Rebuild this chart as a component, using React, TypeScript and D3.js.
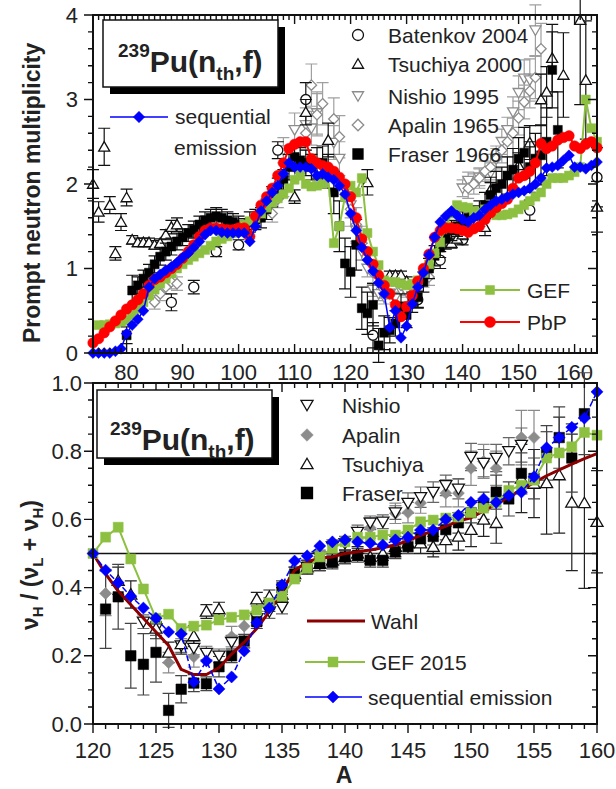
import React from "react";
import * as d3 from "d3";

type P = [number, number];
type E = [number, number, number];

// ---------- upper panel: prompt neutron multiplicity vs A ----------
const pbpTop: P[] = [
  [74,0.12],[75,0.17],[76,0.24],[77,0.31],[78,0.38],[79,0.45],[80,0.52],[81,0.57],[82,0.63],[83,0.7],
  [84,0.8],[85,0.87],[86,0.9],[87,0.95],[88,1.0],[89,1.05],[90,1.12],[91,1.2],[92,1.28],[93,1.38],
  [94,1.45],[95,1.48],[96,1.48],[97,1.47],[98,1.46],[99,1.46],[100,1.48],[101,1.48],[102,1.38],[103,1.62],
  [104,1.75],[105,1.85],[106,1.95],[107,2.1],[108,2.25],[109,2.42],[110,2.47],[111,2.5],[112,2.5],[113,2.3],
  [114,2.25],[115,2.22],[116,2.2],[117,2.15],[118,2.08],[119,2.0],[120,1.85],[121,1.6],[122,1.35],[123,1.2],
  [124,1.05],[125,0.92],[126,0.8],[127,0.7],[128,0.57],[129,0.43],[130,0.55],[131,0.68],[132,0.85],[133,1.0],
  [134,1.17],[135,1.37],[136,1.45],[137,1.48],[138,1.48],[139,1.47],[140,1.45],[141,1.43],[142,1.47],[143,1.5],
  [144,1.58],[145,1.66],[146,1.72],[147,1.77],[148,1.82],[149,1.95],[150,2.07],[151,2.1],[152,2.15],[153,2.25],
  [154,2.48],[155,2.42],[156,2.45],[157,2.52],[158,2.55],[159,2.57],[160,2.45],[161,2.42],[162,2.47],[163,2.5],[164,2.43],
];

const seqTop: P[] = [
  [74,0],[75,0],[76,0],[77,0],[78,0.02],[79,0.05],[80,0.23],[81,0.33],[82,0.4],[83,0.5],
  [84,0.78],[85,0.88],[86,0.93],[87,0.98],[88,1.02],[89,1.07],[90,1.13],[91,1.18],[92,1.25],[93,1.32],
  [94,1.4],[95,1.45],[96,1.45],[97,1.43],[98,1.42],[99,1.42],[100,1.42],[101,1.42],[102,1.32],[103,1.5],
  [104,1.68],[105,1.8],[106,1.9],[107,1.98],[108,2.12],[109,2.25],[110,2.2],[111,2.2],[112,2.2],[113,2.18],
  [114,2.1],[115,2.12],[116,2.08],[117,2.05],[118,1.98],[119,1.88],[120,1.65],[121,1.45],[122,1.25],[123,1.1],
  [124,0.97],[125,0.83],[126,0.7],[127,0.3],[128,0.5],[129,0.18],[130,0.32],[131,0.58],[132,0.78],[133,0.95],
  [134,1.16],[135,1.37],[136,1.55],[137,1.62],[138,1.68],[139,1.63],[140,1.58],[141,1.55],[142,1.6],[143,1.63],
  [144,1.7],[145,1.75],[146,1.8],[147,1.82],[148,1.85],[149,1.88],[150,1.9],[151,1.92],[152,1.95],[153,2.0],
  [154,2.07],[155,2.19],[156,2.2],[157,2.22],[158,2.28],[159,2.34],[160,2.2],[161,2.2],[162,2.18],[163,2.22],[164,2.26],
];

const gefTop: P[] = [
  [75,0.33],[76,0.33],[77,0.34],[78,0.35],[79,0.37],[80,0.39],[81,0.45],[82,0.52],[83,0.6],[84,0.68],
  [85,0.75],[86,0.82],[87,0.88],[88,0.94],[89,1.0],[90,1.05],[91,1.1],[92,1.14],[93,1.18],[94,1.22],
  [95,1.27],[96,1.32],[97,1.35],[98,1.38],[99,1.42],[100,1.47],[101,1.52],[102,1.56],[103,1.6],[104,1.65],
  [105,1.72],[106,1.78],[107,1.83],[108,1.88],[109,1.95],[110,2.05],[111,2.1],[112,2.0],[113,1.97],[114,1.98],
  [115,2.0],[116,2.08],[117,1.3],[118,1.5],[119,1.85],[120,1.98],[121,1.9],[122,2.07],[123,1.42],[124,1.2],
  [125,1.04],[126,0.86],[127,0.84],[128,0.84],[129,0.82],[130,0.8],[131,0.82],[132,0.86],[133,0.95],[134,1.05],
  [135,1.18],[136,1.31],[137,1.5],[138,1.65],[139,1.75],[140,1.73],[141,1.72],[142,1.68],[143,1.66],[144,1.7],
  [145,1.68],[146,1.63],[147,1.63],[148,1.64],[149,1.66],[150,1.7],[151,1.75],[152,1.8],[153,1.85],[154,1.9],
  [155,2.0],[156,2.07],[157,2.07],[158,2.07],[159,2.1],[160,2.14],[161,2.2],[162,3.0],[163,2.66],[164,2.5],
];

const fraserTop: E[] = [
  [80,0.21,0.1],[81,0.74,0.18],[82,0.8,0.1],[83,0.88,0.1],[84,0.95,0.1],[85,1.05,0.1],[86,1.14,0.1],[87,1.2,0.1],
  [88,1.26,0.1],[89,1.32,0.1],[90,1.37,0.1],[91,1.42,0.1],[92,1.46,0.1],[93,1.52,0.1],[94,1.57,0.1],[95,1.6,0.1],
  [96,1.62,0.1],[97,1.6,0.1],[98,1.57,0.1],[99,1.55,0.1],[100,1.52,0.1],[101,1.49,0.1],[102,1.55,0.12],[103,1.58,0.12],
  [104,1.6,0.12],[105,1.7,0.12],[106,1.85,0.12],[107,1.95,0.12],[108,2.05,0.12],[109,2.2,0.15],[110,2.32,0.15],
  [111,2.28,0.15],[112,2.25,0.15],[113,2.2,0.15],[114,2.25,0.18],[115,2.25,0.2],[116,2.15,0.2],[117,1.9,0.25],
  [118,1.5,0.3],[119,1.06,0.3],[120,0.96,0.3],[121,1.28,0.3],[122,0.53,0.25],[123,0.47,0.25],[124,0.57,0.25],
  [125,0.09,0.2],[126,0.24,0.2],[127,0.27,0.15],[128,0.35,0.15],[129,0.55,0.15],[130,0.45,0.15],[131,0.6,0.12],
  [132,0.66,0.12],[133,0.84,0.12],[134,1.0,0.12],[135,1.15,0.12],[136,1.25,0.12],[137,1.35,0.12],[138,1.45,0.12],
  [139,1.5,0.12],[140,1.55,0.12],[141,1.6,0.12],[142,1.62,0.12],[143,1.65,0.15],[144,1.75,0.15],[145,1.87,0.15],
  [146,1.95,0.2],[147,2.0,0.2],[148,2.1,0.22],[149,2.17,0.25],[150,2.3,0.25],[151,2.37,0.3],[152,2.2,0.3],
  [153,2.3,0.3],[154,2.34,0.35],[155,2.5,0.4],[156,3.35,0.45],[157,2.64,0.45],
];

const batenkovTop: E[] = [
  [88,0.6,0.1],[92,0.78,0.08],[96,1.2,0.06],[100,1.28,0.06],[107,2.4,0.1],[112,3.0,0.2],
  [124,0.21,0.15],[132,0.63,0.1],[136,1.1,0.1],[140,1.34,0.06],[152,1.69,0.12],[164,2.08,0.35],
];

const tsuchiyaTop: E[] = [
  [74,2.0,0.17],[75,1.67,0.12],[76,2.44,0.22],[77,1.75,0.1],[78,1.18,0.08],[79,1.55,0.1],[80,1.84,0.1],
  [81,1.34,0.05],[82,1.31,0.05],[83,1.31,0.05],[84,1.31,0.05],[85,1.28,0.05],[86,1.3,0.05],[87,1.4,0.06],
  [88,1.49,0.08],[89,1.52,0.08],[110,1.85,0.08],[112,2.85,0.15],[116,2.52,0.2],[123,2.02,0.15],
  [127,0.92,0.05],[128,0.92,0.05],[129,0.92,0.05],[130,0.85,0.05],[138,1.3,0.06],[139,1.35,0.06],[140,1.4,0.06],
  [144,1.49,0.1],[145,1.93,0.15],[150,2.22,0.15],[152,2.49,0.2],[154,3.0,0.3],[155,3.09,0.3],[156,3.49,0.4],
  [158,3.29,0.5],[161,3.94,1.0],[162,3.23,0.7],[164,1.73,0.3],
];

const nishioTop: E[] = [
  [108,2.4,0.15],[110,2.64,0.2],[112,2.7,0.2],[113,2.66,0.2],[114,2.84,0.25],[117,2.49,0.2],[118,2.3,0.2],
  [120,1.75,0.15],[121,1.45,0.15],[122,1.2,0.1],[123,1.0,0.1],[124,0.75,0.08],[125,0.7,0.08],[126,0.66,0.08],
  [127,0.7,0.06],[128,0.66,0.06],[129,0.74,0.06],[130,0.72,0.06],[131,0.75,0.06],[132,0.8,0.06],[133,0.84,0.06],
  [134,0.95,0.06],[135,1.1,0.06],[140,1.95,0.1],[141,2.04,0.1],[143,2.08,0.1],[145,2.13,0.12],[146,2.3,0.12],
  [147,2.5,0.15],[148,2.64,0.15],[149,2.85,0.18],[150,3.08,0.2],[151,3.25,0.22],[152,3.23,0.25],[153,3.82,0.3],
];

const apalinTop: E[] = [
  [85,0.6,0.08],[86,0.7,0.08],[87,0.78,0.08],[88,0.84,0.08],[89,0.82,0.08],[106,1.65,0.1],[107,1.82,0.1],
  [108,1.97,0.12],[110,2.2,0.15],[112,2.6,0.2],[113,3.17,0.25],[114,2.82,0.25],[115,2.95,0.25],[117,2.77,0.25],
  [118,2.56,0.25],[120,1.7,0.2],[121,1.52,0.2],[122,1.3,0.2],[124,0.95,0.12],[126,0.75,0.1],[129,0.8,0.1],
  [131,0.7,0.1],[134,0.9,0.1],[141,1.95,0.12],[142,2.0,0.12],[143,2.07,0.12],[144,2.15,0.12],[145,2.2,0.15],
  [146,2.3,0.15],[147,2.4,0.15],[148,2.5,0.18],[149,2.6,0.18],[150,2.78,0.2],[151,2.97,0.2],[152,3.1,0.2],
  [153,3.26,0.25],[154,3.6,0.3],
];

// ---------- lower panel: heavy-fragment share nuH/(nuL+nuH) ----------
const wahlBot: P[] = [
  [120,0.5],[121,0.44],[122,0.39],[123,0.35],[124,0.31],[125,0.27],[126,0.23],[127,0.16],[128,0.145],[129,0.145],
  [130,0.165],[131,0.205],[132,0.24],[133,0.28],[134,0.33],[135,0.39],[136,0.45],[137,0.475],[138,0.487],[139,0.49],
  [140,0.5],[141,0.505],[142,0.51],[143,0.517],[144,0.525],[145,0.538],[146,0.553],[147,0.567],[148,0.58],[149,0.595],
  [150,0.605],[151,0.625],[152,0.645],[153,0.665],[154,0.688],[155,0.708],[156,0.728],[157,0.745],[158,0.762],[159,0.778],[160,0.793],
];

const gefBot: P[] = [
  [120,0.5],[121,0.548],[122,0.577],[123,0.484],[124,0.396],[125,0.31],[126,0.322],[127,0.28],[128,0.287],[129,0.29],
  [130,0.305],[131,0.313],[132,0.32],[133,0.334],[134,0.355],[135,0.375],[136,0.425],[137,0.457],[138,0.49],[139,0.515],
  [140,0.534],[141,0.548],[142,0.548],[143,0.554],[144,0.554],[145,0.569],[146,0.593],[147,0.598],[148,0.604],[149,0.607],
  [150,0.62],[151,0.633],[152,0.65],[153,0.685],[154,0.7],[155,0.715],[156,0.78],[157,0.795],[158,0.813],[159,0.855],[160,0.847],
];

const seqBot: P[] = [
  [120,0.5],[121,0.451],[122,0.414],[123,0.375],[124,0.34],[125,0.31],[126,0.27],[127,0.264],[128,0.123],[129,0.185],
  [130,0.103],[131,0.138],[132,0.214],[133,0.297],[134,0.34],[135,0.408],[136,0.478],[137,0.493],[138,0.522],[139,0.534],
  [140,0.54],[141,0.534],[142,0.53],[143,0.525],[144,0.54],[145,0.548],[146,0.569],[147,0.569],[148,0.6],[149,0.612],
  [150,0.65],[151,0.66],[152,0.65],[153,0.67],[154,0.68],[155,0.725],[156,0.81],[157,0.84],[158,0.87],[159,0.897],[160,0.974],
];

const fraserBot: E[] = [
  [121,0.337,0.115],[122,0.373,0.095],[123,0.2,0.095],[124,0.175,0.09],[125,0.21,0.087],[126,0.04,0.05],
  [127,0.102,0.04],[128,0.12,0.025],[129,0.118,0.02],[130,0.168,0.03],[131,0.2,0.02],[132,0.243,0.02],
  [133,0.3,0.02],[134,0.35,0.02],[135,0.4,0.02],[136,0.44,0.02],[137,0.46,0.02],[138,0.47,0.02],
  [139,0.475,0.02],[140,0.49,0.02],[141,0.495,0.02],[142,0.48,0.02],[143,0.48,0.02],[144,0.505,0.02],
  [145,0.52,0.02],[146,0.543,0.025],[147,0.55,0.025],[148,0.57,0.03],[149,0.59,0.03],[150,0.62,0.03],
  [151,0.64,0.04],[152,0.68,0.05],[153,0.66,0.05],[154,0.735,0.06],[155,0.72,0.06],[156,0.795,0.08],
  [157,0.84,0.09],[158,0.78,0.1],[159,0.91,0.12],
];

const tsuchiyaBot: E[] = [
  [122,0.42,0.04],[123,0.38,0.04],[125,0.28,0.03],[126,0.21,0.03],[127,0.235,0.03],[128,0.258,0.03],
  [129,0.33,0.02],[130,0.337,0.02],[133,0.366,0.02],[134,0.373,0.02],[135,0.38,0.02],[136,0.44,0.02],
  [137,0.46,0.02],[138,0.47,0.02],[139,0.48,0.02],[140,0.49,0.02],[141,0.5,0.02],[142,0.49,0.02],
  [143,0.5,0.02],[144,0.52,0.03],[145,0.53,0.03],[146,0.53,0.03],[147,0.52,0.03],[148,0.54,0.04],
  [149,0.55,0.04],[150,0.57,0.05],[151,0.6,0.05],[152,0.59,0.06],[154,0.72,0.1],[155,0.705,0.1],
  [156,0.707,0.15],[157,0.73,0.17],[158,0.65,0.2],[159,0.648,0.25],[160,0.593,0.15],
];

const nishioBot: E[] = [
  [124,0.3,0.02],[125,0.28,0.02],[127,0.23,0.02],[128,0.223,0.02],[129,0.208,0.02],[130,0.2,0.02],
  [131,0.24,0.02],[133,0.31,0.02],[134,0.33,0.02],[135,0.343,0.02],[137,0.46,0.02],[138,0.49,0.02],
  [139,0.52,0.02],[140,0.53,0.02],[141,0.563,0.02],[142,0.59,0.02],[143,0.593,0.02],[144,0.62,0.02],
  [145,0.648,0.03],[146,0.665,0.03],[147,0.68,0.03],[148,0.7,0.03],[149,0.69,0.03],[150,0.783,0.04],
  [151,0.765,0.04],[152,0.78,0.04],[153,0.8,0.04],[154,0.818,0.05],
];

const apalinBot: E[] = [
  [121,0.383,0.065],[126,0.18,0.03],[128,0.197,0.03],[131,0.256,0.03],[132,0.287,0.03],[142,0.575,0.03],
  [144,0.618,0.03],[145,0.62,0.03],[146,0.648,0.03],[148,0.677,0.04],[149,0.677,0.04],[150,0.75,0.05],
  [151,0.77,0.05],[152,0.75,0.05],[154,0.84,0.08],[155,0.84,0.08],
];

// ---------- axes ----------
const topXTicks = [80, 90, 100, 110, 120, 130, 140, 150, 160];
const topYTicks = [0, 1, 2, 3, 4];
const botXTicks = [120, 125, 130, 135, 140, 145, 150, 155, 160];
const botYTicks = [0, 0.2, 0.4, 0.6, 0.8, 1.0];

const FONT = "'Liberation Sans', Arial, Helvetica, sans-serif";
const INK = "#222";
const GREEN = "#8dc040";
const RED = "#ff0000";
const BLUE = "#0000ff";
const GRAY = "#8c8c8c";
const WAHL = "#8b0000";

const X0 = 93, X1 = 597;
const xTop = d3.scaleLinear().domain([74, 164]).range([X0, X1]);
const yTop = d3.scaleLinear().domain([0, 4]).range([353, 15]);
const xBot = d3.scaleLinear().domain([120, 160]).range([X0, X1]);
const yBot = d3.scaleLinear().domain([0, 1]).range([724, 383]);

type Shape = "circle" | "square" | "diamond" | "tri" | "tridown";

function shapePath(shape: Shape, s: number): string {
  const h = s / 2;
  switch (shape) {
    case "square": return `M${-h},${-h}H${h}V${h}H${-h}Z`;
    case "diamond": return `M0,${-h * 1.15}L${h * 1.15},0L0,${h * 1.15}L${-h * 1.15},0Z`;
    case "tri": return `M0,${-h * 1.05}L${h * 1.1},${h * 0.85}L${-h * 1.1},${h * 0.85}Z`;
    case "tridown": return `M0,${h * 1.05}L${h * 1.1},${-h * 0.85}L${-h * 1.1},${-h * 0.85}Z`;
    default: return "";
  }
}

function Marker(props: { x: number; y: number; shape: Shape; size: number; fill: string; stroke: string; sw?: number }) {
  const { x, y, shape, size, fill, stroke, sw = 1.3 } = props;
  if (shape === "circle") {
    return <circle cx={x} cy={y} r={size / 2} fill={fill} stroke={stroke} strokeWidth={sw} />;
  }
  return <path transform={`translate(${x},${y})`} d={shapePath(shape, size)} fill={fill} stroke={stroke} strokeWidth={sw} strokeLinejoin="miter" />;
}

function ErrorBars(props: { data: E[]; x: d3.ScaleLinear<number, number>; y: d3.ScaleLinear<number, number>; color: string; cap: number }) {
  const { data, x, y, color, cap } = props;
  return (
    <g stroke={color} strokeWidth={1.2} fill="none">
      {data.map((d, i) => {
        const cx = x(d[0]);
        const y1 = y(d[1] - d[2]);
        const y2 = y(d[1] + d[2]);
        return (
          <path key={i} d={`M${cx},${y1}V${y2}M${cx - cap},${y1}H${cx + cap}M${cx - cap},${y2}H${cx + cap}`} />
        );
      })}
    </g>
  );
}

function Points(props: { data: (P | E)[]; x: d3.ScaleLinear<number, number>; y: d3.ScaleLinear<number, number>; shape: Shape; size: number; fill: string; stroke: string; sw?: number }) {
  const { data, x, y, ...rest } = props;
  return <g>{data.map((d, i) => <Marker key={i} x={x(d[0])} y={y(d[1])} {...rest} />)}</g>;
}

function Curve(props: { data: P[]; x: d3.ScaleLinear<number, number>; y: d3.ScaleLinear<number, number>; color: string; width: number; dash?: string }) {
  const { data, x, y, color, width, dash } = props;
  const line = d3.line<P>().x((d) => x(d[0])).y((d) => y(d[1]));
  return <path d={line(data) || ""} fill="none" stroke={color} strokeWidth={width} strokeDasharray={dash} strokeLinejoin="round" />;
}

// Frame with ticks; `outLeft` / `outBottom` send those ticks outward, the rest point inward.
function Frame(props: {
  x: d3.ScaleLinear<number, number>; y: d3.ScaleLinear<number, number>;
  xMajor: number[]; xMinor: number[]; yMajor: number[]; yMinor: number[];
  outBottom: boolean;
}) {
  const { x, y, xMajor, xMinor, yMajor, yMinor, outBottom } = props;
  const [xa, xb] = x.range();
  const [yb, ya] = y.range();
  const MJ = 9, MN = 5;
  let d = "";
  for (const v of xMinor) {
    const px = x(v);
    const L = xMajor.includes(v) ? MJ : MN;
    d += outBottom ? `M${px},${yb}V${yb + L}` : `M${px},${yb}V${yb - L}`;
    d += `M${px},${ya}V${ya + L}`;
  }
  for (const v of yMinor) {
    const py = y(v);
    const L = yMajor.some((m) => Math.abs(m - v) < 1e-6) ? MJ : MN;
    d += `M${xa},${py}H${xa - L}`;
    d += `M${xb},${py}H${xb - L}`;
  }
  return (
    <g>
      <path d={d} stroke="#111" strokeWidth={1.4} fill="none" />
      <rect x={xa} y={ya} width={xb - xa} height={yb - ya} fill="none" stroke="#111" strokeWidth={2} />
    </g>
  );
}

function PuLabel(props: { x: number; y: number; w: number; h: number; tx: number; base: number }) {
  const { x, y, w, h, tx, base } = props;
  return (
    <g>
      <rect x={x + 7} y={y + 7} width={w} height={h} fill="#000" />
      <rect x={x} y={y} width={w} height={h} fill="#fff" stroke="#111" strokeWidth={1.5} />
      <text x={tx} y={base} fontFamily={FONT} fontWeight="bold" fontSize={30} fill={INK}>
        <tspan fontSize={19} dy={-15}>239</tspan>
        <tspan dy={15}>Pu(n</tspan>
        <tspan fontSize={19} dy={8}>th</tspan>
        <tspan dy={-8}>,f)</tspan>
      </text>
    </g>
  );
}

export default function App() {
  const topMinorX = d3.range(74, 165, 1);
  const topMinorY = d3.range(0, 4.0001, 0.2).map((v) => +v.toFixed(2));
  const botMinorX = d3.range(120, 161, 1);
  const botMinorY = d3.range(0, 1.0001, 0.05).map((v) => +v.toFixed(2));

  const legendTop = [
    { label: "Batenkov 2004", shape: "circle" as Shape, fill: "#fff", stroke: "#111", y: 35 },
    { label: "Tsuchiya 2000", shape: "tri" as Shape, fill: "#fff", stroke: "#111", y: 64 },
    { label: "Nishio 1995", shape: "tridown" as Shape, fill: "#fff", stroke: GRAY, y: 96 },
    { label: "Apalin 1965", shape: "diamond" as Shape, fill: "#fff", stroke: GRAY, y: 125 },
    { label: "Fraser 1966", shape: "square" as Shape, fill: "#000", stroke: "#000", y: 154 },
  ];
  const legendBot = [
    { label: "Nishio", shape: "tridown" as Shape, fill: "#fff", stroke: "#111", y: 405 },
    { label: "Apalin", shape: "diamond" as Shape, fill: GRAY, stroke: GRAY, y: 435 },
    { label: "Tsuchiya", shape: "tri" as Shape, fill: "#fff", stroke: "#111", y: 464 },
    { label: "Fraser", shape: "square" as Shape, fill: "#000", stroke: "#000", y: 493 },
  ];

  return (
    <svg width={616} height={789} style={{ position: "absolute", left: 0, top: 0, background: "#fff" }} fontFamily={FONT}>
      <rect width={616} height={789} fill="#fff" />

      {/* ===== upper panel ===== */}
      <ErrorBars data={nishioTop} x={xTop} y={yTop} color="#a0a0a0" cap={6} />
      <ErrorBars data={apalinTop} x={xTop} y={yTop} color="#a0a0a0" cap={6} />
      <Points data={nishioTop} x={xTop} y={yTop} shape="tridown" size={10} fill="#fff" stroke={GRAY} />
      <Points data={apalinTop} x={xTop} y={yTop} shape="diamond" size={9} fill="#fff" stroke={GRAY} />
      <ErrorBars data={batenkovTop} x={xTop} y={yTop} color="#111" cap={6} />
      <Points data={batenkovTop} x={xTop} y={yTop} shape="circle" size={10} fill="#fff" stroke="#111" />
      <ErrorBars data={tsuchiyaTop} x={xTop} y={yTop} color="#111" cap={6} />
      <Points data={tsuchiyaTop} x={xTop} y={yTop} shape="tri" size={10} fill="#fff" stroke="#111" />
      <ErrorBars data={fraserTop} x={xTop} y={yTop} color="#111" cap={6} />
      <Points data={fraserTop} x={xTop} y={yTop} shape="square" size={9} fill="#000" stroke="#000" sw={0.5} />

      <Curve data={gefTop} x={xTop} y={yTop} color={GREEN} width={2} />
      <Points data={gefTop} x={xTop} y={yTop} shape="square" size={9} fill={GREEN} stroke={GREEN} sw={0.5} />
      <Curve data={pbpTop} x={xTop} y={yTop} color={RED} width={2} />
      <Points data={pbpTop} x={xTop} y={yTop} shape="circle" size={10.5} fill={RED} stroke={RED} sw={0.5} />
      <Curve data={seqTop} x={xTop} y={yTop} color={BLUE} width={1.5} />
      <Points data={seqTop} x={xTop} y={yTop} shape="diamond" size={9.5} fill={BLUE} stroke={BLUE} sw={0.5} />

      <Frame x={xTop} y={yTop} xMajor={topXTicks} xMinor={topMinorX} yMajor={topYTicks} yMinor={topMinorY} outBottom={false} />

      {topYTicks.map((v) => (
        <text key={v} x={78} y={yTop(v) + 7.5} textAnchor="end" fontSize={22} fill={INK}>{v}</text>
      ))}
      {topXTicks.map((v) => (
        <text key={v} x={xTop(v)} y={380} textAnchor="middle" fontSize={22} fill={INK}>{v}</text>
      ))}
      <text transform="translate(40,343) rotate(-90)" fontSize={23} fontWeight="bold" fill={INK}>Prompt neutron multiplicity</text>

      <PuLabel x={103} y={20} w={175} h={67} tx={118} base={72} />

      {/* sequential emission key */}
      <line x1={110} x2={168} y1={117} y2={117} stroke={BLUE} strokeWidth={1.5} />
      <Marker x={139} y={117} shape="diamond" size={10} fill={BLUE} stroke={BLUE} sw={0.5} />
      <text x={175} y={124} fontSize={21} fill={INK}>sequential</text>
      <text x={174} y={155} fontSize={21} fill={INK}>emission</text>

      {legendTop.map((l) => (
        <g key={l.label}>
          <Marker x={358} y={l.y} shape={l.shape} size={l.shape === "circle" ? 11 : 10} fill={l.fill} stroke={l.stroke} />
          <text x={388} y={l.y + 7.5} fontSize={21} fill={INK}>{l.label}</text>
        </g>
      ))}

      <line x1={460} x2={520} y1={290} y2={290} stroke={GREEN} strokeWidth={2} />
      <Marker x={490} y={290} shape="square" size={9} fill={GREEN} stroke={GREEN} sw={0.5} />
      <text x={527} y={298} fontSize={21} fill={INK}>GEF</text>
      <line x1={460} x2={520} y1={322} y2={322} stroke={RED} strokeWidth={2} />
      <Marker x={490} y={322} shape="circle" size={11} fill={RED} stroke={RED} sw={0.5} />
      <text x={527} y={330} fontSize={21} fill={INK}>PbP</text>

      {/* ===== lower panel ===== */}
      <line x1={X0} x2={X1} y1={yBot(0.5)} y2={yBot(0.5)} stroke="#111" strokeWidth={1.5} />
      <ErrorBars data={apalinBot} x={xBot} y={yBot} color="#8a8a8a" cap={6} />
      <ErrorBars data={nishioBot} x={xBot} y={yBot} color="#666" cap={6} />
      <ErrorBars data={tsuchiyaBot} x={xBot} y={yBot} color="#222" cap={6} />
      <ErrorBars data={fraserBot} x={xBot} y={yBot} color="#444" cap={6} />
      <Points data={apalinBot} x={xBot} y={yBot} shape="diamond" size={10.5} fill={GRAY} stroke={GRAY} sw={0.5} />
      <Points data={nishioBot} x={xBot} y={yBot} shape="tridown" size={11} fill="#fff" stroke="#111" />
      <Points data={tsuchiyaBot} x={xBot} y={yBot} shape="tri" size={11} fill="#fff" stroke="#111" />
      <Points data={fraserBot} x={xBot} y={yBot} shape="square" size={10.5} fill="#000" stroke="#000" sw={0.5} />

      <Curve data={wahlBot} x={xBot} y={yBot} color={WAHL} width={3} />
      <Curve data={gefBot} x={xBot} y={yBot} color={GREEN} width={2} />
      <Points data={gefBot} x={xBot} y={yBot} shape="square" size={10} fill={GREEN} stroke={GREEN} sw={0.5} />
      <Curve data={seqBot} x={xBot} y={yBot} color={BLUE} width={1.5} dash="6,3" />
      <Points data={seqBot} x={xBot} y={yBot} shape="diamond" size={10.5} fill={BLUE} stroke={BLUE} sw={0.5} />

      <Frame x={xBot} y={yBot} xMajor={botXTicks} xMinor={botMinorX} yMajor={botYTicks} yMinor={botMinorY} outBottom={true} />

      {botYTicks.map((v) => (
        <text key={v} x={82} y={yBot(v) + 7.5} textAnchor="end" fontSize={22} fill={INK}>{v.toFixed(1)}</text>
      ))}
      {botXTicks.map((v) => (
        <text key={v} x={xBot(v)} y={758} textAnchor="middle" fontSize={22} fill={INK}>{v}</text>
      ))}
      <text x={344} y={783} textAnchor="middle" fontSize={23} fontWeight="bold" fill={INK}>A</text>
      <text transform="translate(38,565) rotate(-90)" textAnchor="middle" fontSize={23} fontWeight="bold" fill={INK}>
        <tspan>ν</tspan><tspan fontSize={15} dy={5}>H</tspan>
        <tspan dy={-5}> / (ν</tspan><tspan fontSize={15} dy={5}>L</tspan>
        <tspan dy={-5}> + ν</tspan><tspan fontSize={15} dy={5}>H</tspan>
        <tspan dy={-5}>)</tspan>
      </text>

      <PuLabel x={97} y={390} w={175} h={68} tx={110} base={450} />

      {legendBot.map((l) => (
        <g key={l.label}>
          <Marker x={307} y={l.y} shape={l.shape} size={11} fill={l.fill} stroke={l.stroke} sw={l.shape === "diamond" ? 0.5 : 1.3} />
          <text x={342} y={l.y + 7.5} fontSize={21} fill={INK}>{l.label}</text>
        </g>
      ))}

      <line x1={307} x2={365} y1={621} y2={621} stroke={WAHL} strokeWidth={3} />
      <text x={371} y={629} fontSize={21} fill={INK}>Wahl</text>
      <line x1={305} x2={365} y1={662} y2={662} stroke={GREEN} strokeWidth={2} />
      <Marker x={333} y={662} shape="square" size={10} fill={GREEN} stroke={GREEN} sw={0.5} />
      <text x={371} y={670} fontSize={21} fill={INK}>GEF 2015</text>
      <line x1={305} x2={362} y1={697} y2={697} stroke={BLUE} strokeWidth={1.5} />
      <Marker x={333} y={697} shape="diamond" size={10.5} fill={BLUE} stroke={BLUE} sw={0.5} />
      <text x={368} y={705} fontSize={21} fill={INK}>sequential emission</text>
    </svg>
  );
}
